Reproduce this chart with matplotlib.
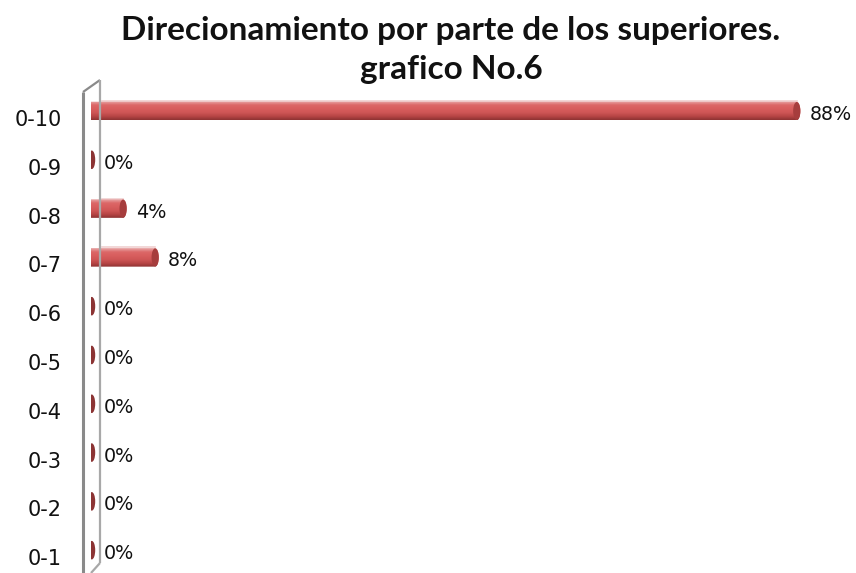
import numpy as np
import matplotlib
matplotlib.use("Agg")
import matplotlib.pyplot as plt
import matplotlib.transforms as mtransforms
from matplotlib.colors import LinearSegmentedColormap
from matplotlib.patches import Ellipse, PathPatch
from matplotlib.path import Path
from matplotlib.lines import Line2D

# Survey scores and the share of answers for each one
categories = ["0-1", "0-2", "0-3", "0-4", "0-5", "0-6", "0-7", "0-8", "0-9", "0-10"]
percent = [0, 0, 0, 0, 0, 0, 8, 4, 0, 88]
value_labels = ["0%", "0%", "0%", "0%", "0%", "0%", "8%", "4%", "0%", "88%"]
title = "Direcionamiento por parte de los superiores.\ngrafico No.6"

W, H = 856, 573
fig = plt.figure(figsize=(W / 100, H / 100), dpi=100)
fig.patch.set_facecolor("white")

px_per_unit = 8.02
ax_left, ax_right, ax_top = 91, 851, 86
ax = fig.add_axes([ax_left / W, 0, (ax_right - ax_left) / W, (H - ax_top) / H])
ax.set_xlim(0, (ax_right - ax_left) / px_per_unit)
ax.set_ylim(-0.468, 9.512)
for s in ax.spines.values():
    s.set_visible(False)
ax.set_xticks([])
ax.set_yticks(range(len(categories)))
ax.set_yticklabels(categories, fontsize=15, family="DejaVu Sans", color="#111111")
ax.tick_params(axis="y", length=0, pad=21)
# category names sit a little below the bars (3-D depth offset)
shift = mtransforms.ScaledTranslation(0, -7 / 100, fig.dpi_scale_trans)
for lbl in ax.get_yticklabels():
    lbl.set_transform(lbl.get_transform() + shift)

# Back wall of the 3-D frame, in pixel coordinates
def fig_line(xs, ys, color, lw):
    fig.add_artist(Line2D([x / W for x in xs], [1 - y / H for y in ys],
                          color=color, lw=lw, transform=fig.transFigure,
                          solid_capstyle="butt"))

fig_line([83, 83], [92, 573], "#8a8a8a", 2.2)
fig_line([83, 100], [92, 80], "#8a8a8a", 1.6)
fig_line([100, 100], [80, 563], "#a8a8a8", 1.6)
fig_line([100, 91], [563, 573], "#a8a8a8", 1.6)

# Cylinder shading
cyl = LinearSegmentedColormap.from_list(
    "cyl", ["#e8a8a8", "#dc6868", "#d85e5e", "#cf5656", "#b84646", "#8e3232"])
grad = np.linspace(0, 1, 64).reshape(-1, 1)

bar_h = 0.38
rx = 0.45  # half-width of the end caps in data units

for i, (v, lab) in enumerate(zip(percent, value_labels)):
    y0, y1 = i - bar_h / 2, i + bar_h / 2
    if v > 0:
        # Rounded body: half ellipse at the start, straight body, half ellipse at the end
        t = np.linspace(np.pi / 2, 3 * np.pi / 2, 30)
        left = np.column_stack([rx * np.cos(t), i + bar_h / 2 * np.sin(t)])
        t2 = np.linspace(-np.pi / 2, np.pi / 2, 30)
        right = np.column_stack([v + rx * np.cos(t2), i + bar_h / 2 * np.sin(t2)])
        verts = np.vstack([left, right, left[:1]])
        codes = [Path.MOVETO] + [Path.LINETO] * (len(verts) - 2) + [Path.CLOSEPOLY]
        patch = PathPatch(Path(verts, codes), facecolor="none", edgecolor="none")
        ax.add_patch(patch)
        im = ax.imshow(grad, cmap=cyl, aspect="auto", origin="upper",
                       extent=[-rx, v + rx, y0, y1], interpolation="bilinear", zorder=2)
        im.set_clip_path(patch)
        # faint top face behind the bar
        ax.plot([rx * 3, v], [y1 + 0.015, y1 + 0.015], color="#f0d0d0", lw=1.2, zorder=1)
        cap = Ellipse((v, i), 2 * rx, bar_h * 0.97, facecolor="#a63d3d",
                      edgecolor="none", zorder=3)
        ax.add_patch(cap)
    else:
        cap = Ellipse((0.1, i), 0.85, 0.38, facecolor="#8c3434",
                      edgecolor="none", zorder=3)
        ax.add_patch(cap)
    ax.annotate(lab, xy=(v, i), xytext=(9.4, -2.5), textcoords="offset points",
                va="center", ha="left", fontsize=13.8, family="DejaVu Sans",
                color="#111111")

fig.text(451 / W, 1 - 50 / H, title, ha="center", va="center", fontsize=24,
         fontweight="bold", family="Lato", linespacing=1.45, color="#111111")

fig.savefig("out.png", dpi=100, facecolor="white")
